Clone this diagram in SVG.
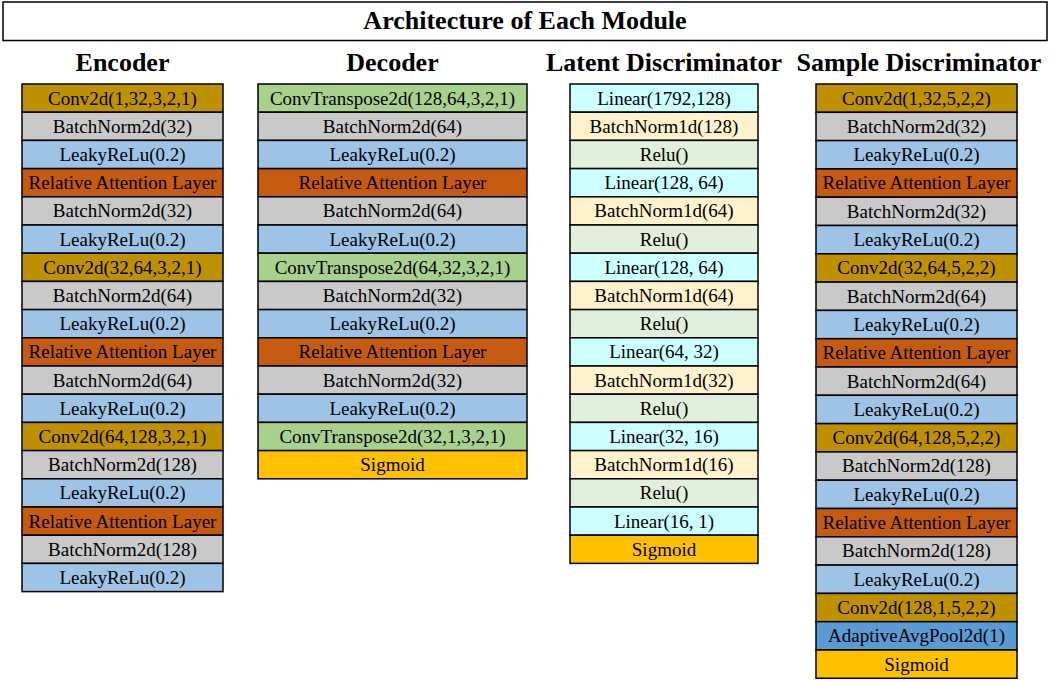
<svg xmlns="http://www.w3.org/2000/svg" width="1059" height="681" viewBox="0 0 1059 681">
<style>
text{font-family:"Liberation Serif","Times New Roman",serif;fill:#000;text-anchor:middle}
.h{font-size:26px;font-weight:bold}
.t{font-size:19px}
rect{stroke:#000;stroke-width:1.5}
.conv{fill:#BF9000}.bn{fill:#C9C9C9}.lr{fill:#9DC3E6}.att{fill:#C55A11}.ct{fill:#A9D18E}.sig{fill:#FFC000}
.lin{fill:#CCFFFF}.bn1{fill:#FFF2CC}.relu{fill:#E2EFDA}.pool{fill:#5B9BD5}
</style>
<rect x="3" y="2" width="1044" height="38.5" fill="#fff" stroke-width="2"/>
<text class="h" x="525" y="28.5">Architecture of Each Module</text>
<text class="h" x="122.5" y="71">Encoder</text>
<text class="h" x="392.5" y="71">Decoder</text>
<text class="h" x="664" y="71">Latent Discriminator</text>
<text class="h" x="919" y="71">Sample Discriminator</text>
<g id="connectors"></g>
<g id="encoder">
<g id="e1"><rect class="conv" x="22" y="84" width="201" height="28.2"/><text class="t" x="122.5" y="104.5">Conv2d(1,32,3,2,1)</text></g>
<g id="e2"><rect class="bn" x="22" y="112.2" width="201" height="28.2"/><text class="t" x="122.5" y="132.7">BatchNorm2d(32)</text></g>
<g id="e3"><rect class="lr" x="22" y="140.4" width="201" height="28.2"/><text class="t" x="122.5" y="160.9">LeakyReLu(0.2)</text></g>
<g id="e4"><rect class="att" x="22" y="168.6" width="201" height="28.2"/><text class="t" x="122.5" y="189.1">Relative Attention Layer</text></g>
<g id="e5"><rect class="bn" x="22" y="196.8" width="201" height="28.2"/><text class="t" x="122.5" y="217.3">BatchNorm2d(32)</text></g>
<g id="e6"><rect class="lr" x="22" y="225" width="201" height="28.2"/><text class="t" x="122.5" y="245.5">LeakyReLu(0.2)</text></g>
<g id="e7"><rect class="conv" x="22" y="253.2" width="201" height="28.2"/><text class="t" x="122.5" y="273.7">Conv2d(32,64,3,2,1)</text></g>
<g id="e8"><rect class="bn" x="22" y="281.4" width="201" height="28.2"/><text class="t" x="122.5" y="301.9">BatchNorm2d(64)</text></g>
<g id="e9"><rect class="lr" x="22" y="309.6" width="201" height="28.2"/><text class="t" x="122.5" y="330.1">LeakyReLu(0.2)</text></g>
<g id="e10"><rect class="att" x="22" y="337.8" width="201" height="28.2"/><text class="t" x="122.5" y="358.3">Relative Attention Layer</text></g>
<g id="e11"><rect class="bn" x="22" y="366" width="201" height="28.2"/><text class="t" x="122.5" y="386.5">BatchNorm2d(64)</text></g>
<g id="e12"><rect class="lr" x="22" y="394.2" width="201" height="28.2"/><text class="t" x="122.5" y="414.7">LeakyReLu(0.2)</text></g>
<g id="e13"><rect class="conv" x="22" y="422.4" width="201" height="28.2"/><text class="t" x="122.5" y="442.9">Conv2d(64,128,3,2,1)</text></g>
<g id="e14"><rect class="bn" x="22" y="450.6" width="201" height="28.2"/><text class="t" x="122.5" y="471.1">BatchNorm2d(128)</text></g>
<g id="e15"><rect class="lr" x="22" y="478.8" width="201" height="28.2"/><text class="t" x="122.5" y="499.3">LeakyReLu(0.2)</text></g>
<g id="e16"><rect class="att" x="22" y="507" width="201" height="28.2"/><text class="t" x="122.5" y="527.5">Relative Attention Layer</text></g>
<g id="e17"><rect class="bn" x="22" y="535.2" width="201" height="28.2"/><text class="t" x="122.5" y="555.7">BatchNorm2d(128)</text></g>
<g id="e18"><rect class="lr" x="22" y="563.4" width="201" height="28.2"/><text class="t" x="122.5" y="583.9">LeakyReLu(0.2)</text></g>
</g>
<g id="decoder">
<g id="d1"><rect class="ct" x="258" y="84" width="269" height="28.2"/><text class="t" x="392.5" y="104.5">ConvTranspose2d(128,64,3,2,1)</text></g>
<g id="d2"><rect class="bn" x="258" y="112.2" width="269" height="28.2"/><text class="t" x="392.5" y="132.7">BatchNorm2d(64)</text></g>
<g id="d3"><rect class="lr" x="258" y="140.4" width="269" height="28.2"/><text class="t" x="392.5" y="160.9">LeakyReLu(0.2)</text></g>
<g id="d4"><rect class="att" x="258" y="168.6" width="269" height="28.2"/><text class="t" x="392.5" y="189.1">Relative Attention Layer</text></g>
<g id="d5"><rect class="bn" x="258" y="196.8" width="269" height="28.2"/><text class="t" x="392.5" y="217.3">BatchNorm2d(64)</text></g>
<g id="d6"><rect class="lr" x="258" y="225" width="269" height="28.2"/><text class="t" x="392.5" y="245.5">LeakyReLu(0.2)</text></g>
<g id="d7"><rect class="ct" x="258" y="253.2" width="269" height="28.2"/><text class="t" x="392.5" y="273.7">ConvTranspose2d(64,32,3,2,1)</text></g>
<g id="d8"><rect class="bn" x="258" y="281.4" width="269" height="28.2"/><text class="t" x="392.5" y="301.9">BatchNorm2d(32)</text></g>
<g id="d9"><rect class="lr" x="258" y="309.6" width="269" height="28.2"/><text class="t" x="392.5" y="330.1">LeakyReLu(0.2)</text></g>
<g id="d10"><rect class="att" x="258" y="337.8" width="269" height="28.2"/><text class="t" x="392.5" y="358.3">Relative Attention Layer</text></g>
<g id="d11"><rect class="bn" x="258" y="366" width="269" height="28.2"/><text class="t" x="392.5" y="386.5">BatchNorm2d(32)</text></g>
<g id="d12"><rect class="lr" x="258" y="394.2" width="269" height="28.2"/><text class="t" x="392.5" y="414.7">LeakyReLu(0.2)</text></g>
<g id="d13"><rect class="ct" x="258" y="422.4" width="269" height="28.2"/><text class="t" x="392.5" y="442.9">ConvTranspose2d(32,1,3,2,1)</text></g>
<g id="d14"><rect class="sig" x="258" y="450.6" width="269" height="28.2"/><text class="t" x="392.5" y="471.1">Sigmoid</text></g>
</g>
<g id="latent">
<g id="l1"><rect class="lin" x="570" y="84" width="188" height="28.2"/><text class="t" x="664" y="104.5">Linear(1792,128)</text></g>
<g id="l2"><rect class="bn1" x="570" y="112.2" width="188" height="28.2"/><text class="t" x="664" y="132.7">BatchNorm1d(128)</text></g>
<g id="l3"><rect class="relu" x="570" y="140.4" width="188" height="28.2"/><text class="t" x="664" y="160.9">Relu()</text></g>
<g id="l4"><rect class="lin" x="570" y="168.6" width="188" height="28.2"/><text class="t" x="664" y="189.1">Linear(128, 64)</text></g>
<g id="l5"><rect class="bn1" x="570" y="196.8" width="188" height="28.2"/><text class="t" x="664" y="217.3">BatchNorm1d(64)</text></g>
<g id="l6"><rect class="relu" x="570" y="225" width="188" height="28.2"/><text class="t" x="664" y="245.5">Relu()</text></g>
<g id="l7"><rect class="lin" x="570" y="253.2" width="188" height="28.2"/><text class="t" x="664" y="273.7">Linear(128, 64)</text></g>
<g id="l8"><rect class="bn1" x="570" y="281.4" width="188" height="28.2"/><text class="t" x="664" y="301.9">BatchNorm1d(64)</text></g>
<g id="l9"><rect class="relu" x="570" y="309.6" width="188" height="28.2"/><text class="t" x="664" y="330.1">Relu()</text></g>
<g id="l10"><rect class="lin" x="570" y="337.8" width="188" height="28.2"/><text class="t" x="664" y="358.3">Linear(64, 32)</text></g>
<g id="l11"><rect class="bn1" x="570" y="366" width="188" height="28.2"/><text class="t" x="664" y="386.5">BatchNorm1d(32)</text></g>
<g id="l12"><rect class="relu" x="570" y="394.2" width="188" height="28.2"/><text class="t" x="664" y="414.7">Relu()</text></g>
<g id="l13"><rect class="lin" x="570" y="422.4" width="188" height="28.2"/><text class="t" x="664" y="442.9">Linear(32, 16)</text></g>
<g id="l14"><rect class="bn1" x="570" y="450.6" width="188" height="28.2"/><text class="t" x="664" y="471.1">BatchNorm1d(16)</text></g>
<g id="l15"><rect class="relu" x="570" y="478.8" width="188" height="28.2"/><text class="t" x="664" y="499.3">Relu()</text></g>
<g id="l16"><rect class="lin" x="570" y="507" width="188" height="28.2"/><text class="t" x="664" y="527.5">Linear(16, 1)</text></g>
<g id="l17"><rect class="sig" x="570" y="535.2" width="188" height="28.2"/><text class="t" x="664" y="555.7">Sigmoid</text></g>
</g>
<g id="sample">
<g id="s1"><rect class="conv" x="816" y="84" width="201" height="28.3"/><text class="t" x="916.5" y="104.5">Conv2d(1,32,5,2,2)</text></g>
<g id="s2"><rect class="bn" x="816" y="112.3" width="201" height="28.3"/><text class="t" x="916.5" y="132.8">BatchNorm2d(32)</text></g>
<g id="s3"><rect class="lr" x="816" y="140.6" width="201" height="28.3"/><text class="t" x="916.5" y="161.1">LeakyReLu(0.2)</text></g>
<g id="s4"><rect class="att" x="816" y="168.9" width="201" height="28.3"/><text class="t" x="916.5" y="189.4">Relative Attention Layer</text></g>
<g id="s5"><rect class="bn" x="816" y="197.2" width="201" height="28.3"/><text class="t" x="916.5" y="217.7">BatchNorm2d(32)</text></g>
<g id="s6"><rect class="lr" x="816" y="225.5" width="201" height="28.3"/><text class="t" x="916.5" y="246">LeakyReLu(0.2)</text></g>
<g id="s7"><rect class="conv" x="816" y="253.8" width="201" height="28.3"/><text class="t" x="916.5" y="274.3">Conv2d(32,64,5,2,2)</text></g>
<g id="s8"><rect class="bn" x="816" y="282.1" width="201" height="28.3"/><text class="t" x="916.5" y="302.6">BatchNorm2d(64)</text></g>
<g id="s9"><rect class="lr" x="816" y="310.4" width="201" height="28.3"/><text class="t" x="916.5" y="330.9">LeakyReLu(0.2)</text></g>
<g id="s10"><rect class="att" x="816" y="338.7" width="201" height="28.3"/><text class="t" x="916.5" y="359.2">Relative Attention Layer</text></g>
<g id="s11"><rect class="bn" x="816" y="367" width="201" height="28.3"/><text class="t" x="916.5" y="387.5">BatchNorm2d(64)</text></g>
<g id="s12"><rect class="lr" x="816" y="395.3" width="201" height="28.3"/><text class="t" x="916.5" y="415.8">LeakyReLu(0.2)</text></g>
<g id="s13"><rect class="conv" x="816" y="423.6" width="201" height="28.3"/><text class="t" x="916.5" y="444.1">Conv2d(64,128,5,2,2)</text></g>
<g id="s14"><rect class="bn" x="816" y="451.9" width="201" height="28.3"/><text class="t" x="916.5" y="472.4">BatchNorm2d(128)</text></g>
<g id="s15"><rect class="lr" x="816" y="480.2" width="201" height="28.3"/><text class="t" x="916.5" y="500.7">LeakyReLu(0.2)</text></g>
<g id="s16"><rect class="att" x="816" y="508.5" width="201" height="28.3"/><text class="t" x="916.5" y="529">Relative Attention Layer</text></g>
<g id="s17"><rect class="bn" x="816" y="536.8" width="201" height="28.3"/><text class="t" x="916.5" y="557.3">BatchNorm2d(128)</text></g>
<g id="s18"><rect class="lr" x="816" y="565.1" width="201" height="28.3"/><text class="t" x="916.5" y="585.6">LeakyReLu(0.2)</text></g>
<g id="s19"><rect class="conv" x="816" y="593.4" width="201" height="28.3"/><text class="t" x="916.5" y="613.9">Conv2d(128,1,5,2,2)</text></g>
<g id="s20"><rect class="pool" x="816" y="621.7" width="201" height="28.3"/><text class="t" x="916.5" y="642.2">AdaptiveAvgPool2d(1)</text></g>
<g id="s21"><rect class="sig" x="816" y="650" width="201" height="28.3"/><text class="t" x="916.5" y="670.5">Sigmoid</text></g>
</g>
</svg>
